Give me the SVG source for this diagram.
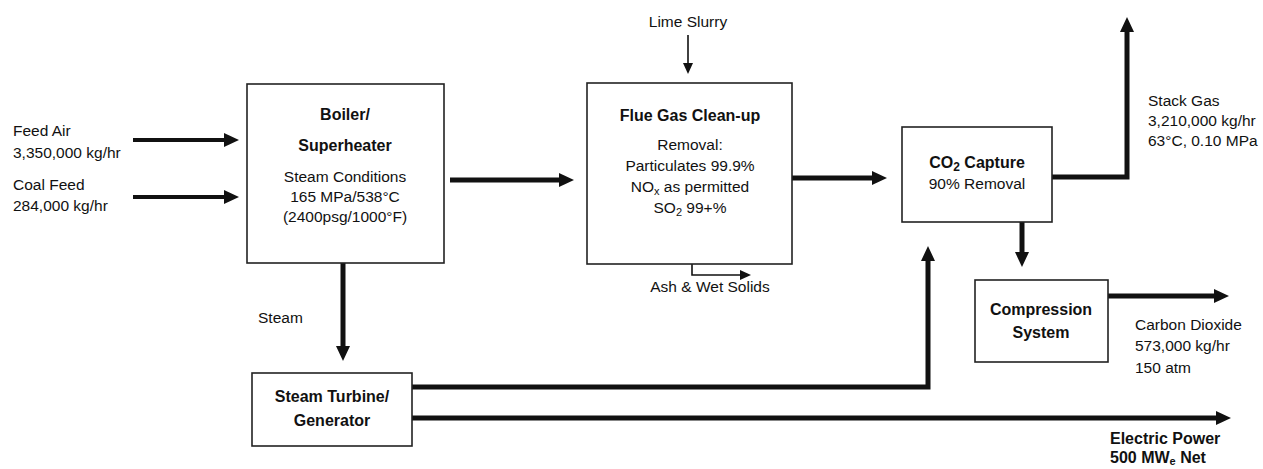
<svg xmlns="http://www.w3.org/2000/svg" width="1263" height="469" viewBox="0 0 1263 469">
<style>
.t{font-family:"Liberation Sans",Arial,sans-serif;font-size:15.5px;fill:#111}
.b{font-family:"Liberation Sans",Arial,sans-serif;font-size:16px;font-weight:bold;fill:#111}
.box{fill:#fff;stroke:#222;stroke-width:1.6}
.thick{fill:none;stroke:#111;stroke-width:5}
.med{fill:none;stroke:#111;stroke-width:4}
.thin{fill:none;stroke:#111;stroke-width:1.6}
</style>
<defs>
<marker id="ah" markerUnits="userSpaceOnUse" markerWidth="16" markerHeight="16" refX="2" refY="8" orient="auto" viewBox="0 0 16 16">
<path d="M0,1 L15,8 L0,15 Z" fill="#111"/>
</marker>
<marker id="ahs" markerUnits="userSpaceOnUse" markerWidth="12" markerHeight="12" refX="1" refY="6" orient="auto" viewBox="0 0 12 12">
<path d="M0,1 L11,6 L0,11 Z" fill="#111"/>
</marker>
</defs>
<rect width="1263" height="469" fill="#fff"/>
<g id="connectors">
<path class="med" d="M133,140 H226" marker-end="url(#ah)"/>
<path class="med" d="M133,197 H226" marker-end="url(#ah)"/>
<path class="thick" d="M450,180 H561" marker-end="url(#ah)"/>
<path class="thick" d="M792,178 H874" marker-end="url(#ah)"/>
<path class="thick" d="M1052,177 H1127 V30" marker-end="url(#ah)"/>
<path class="thick" d="M1022,222 V254" marker-end="url(#ah)"/>
<path class="thick" d="M1108,296 H1216" marker-end="url(#ah)"/>
<path class="thick" d="M343,263 V348" marker-end="url(#ah)"/>
<path class="thick" d="M412,387 H928 V259" marker-end="url(#ah)"/>
<path class="thick" d="M412,418 H1218" marker-end="url(#ah)"/>
<path class="thin" d="M688,35 V64" marker-end="url(#ahs)"/>
<path class="thin" d="M692,263 V275 H741" marker-end="url(#ahs)"/>
</g>
<g id="feed-air">
<text class="t" x="13" y="136">Feed Air</text>
<text class="t" x="13" y="158">3,350,000 kg/hr</text>
</g>
<g id="coal-feed">
<text class="t" x="13" y="190">Coal Feed</text>
<text class="t" x="13" y="211">284,000 kg/hr</text>
</g>
<g id="boiler">
<rect class="box" x="247" y="84" width="197" height="179"/>
<text class="b" x="345" y="120" text-anchor="middle">Boiler/</text>
<text class="b" x="345" y="151" text-anchor="middle">Superheater</text>
<text class="t" x="345" y="182" text-anchor="middle">Steam Conditions</text>
<text class="t" x="345" y="202" text-anchor="middle">165 MPa/538°C</text>
<text class="t" x="345" y="222" text-anchor="middle">(2400psg/1000°F)</text>
</g>
<g id="lime-slurry">
<text class="t" x="688" y="27" text-anchor="middle">Lime Slurry</text>
</g>
<g id="flue-gas">
<rect class="box" x="587" y="83" width="205" height="181"/>
<text class="b" x="690" y="121" text-anchor="middle">Flue Gas Clean-up</text>
<text class="t" x="690" y="150" text-anchor="middle">Removal:</text>
<text class="t" x="690" y="171" text-anchor="middle">Particulates 99.9%</text>
<text class="t" x="690" y="192" text-anchor="middle">NO<tspan font-size="11" dy="3">x</tspan><tspan dy="-3"> as permitted</tspan></text>
<text class="t" x="690" y="213" text-anchor="middle">SO<tspan font-size="11" dy="3">2</tspan><tspan dy="-3">  99+%</tspan></text>
</g>
<g id="ash">
<text class="t" x="710" y="292" text-anchor="middle">Ash &amp; Wet Solids</text>
</g>
<g id="co2-capture">
<rect class="box" x="902" y="127" width="150" height="95"/>
<text class="b" x="977" y="168" text-anchor="middle">CO<tspan font-size="12" dy="3">2</tspan><tspan dy="-3"> Capture</tspan></text>
<text class="t" x="977" y="189" text-anchor="middle">90% Removal</text>
</g>
<g id="stack-gas">
<text class="t" x="1148" y="106">Stack Gas</text>
<text class="t" x="1148" y="126">3,210,000 kg/hr</text>
<text class="t" x="1148" y="146">63°C, 0.10 MPa</text>
</g>
<g id="compression">
<rect class="box" x="975" y="280" width="133" height="82"/>
<text class="b" x="1041" y="315" text-anchor="middle">Compression</text>
<text class="b" x="1041" y="338" text-anchor="middle">System</text>
</g>
<g id="carbon-dioxide">
<text class="t" x="1135" y="330">Carbon Dioxide</text>
<text class="t" x="1135" y="351">573,000 kg/hr</text>
<text class="t" x="1135" y="373">150 atm</text>
</g>
<g id="steam-label">
<text class="t" x="258" y="323">Steam</text>
</g>
<g id="turbine">
<rect class="box" x="252" y="373" width="160" height="73"/>
<text class="b" x="332" y="402" text-anchor="middle">Steam Turbine/</text>
<text class="b" x="332" y="426" text-anchor="middle">Generator</text>
</g>
<g id="electric-power">
<text class="b" x="1110" y="444">Electric Power</text>
<text class="b" x="1110" y="463">500 MW<tspan font-size="11" dy="2">e</tspan><tspan dy="-2"> Net</tspan></text>
</g>
</svg>
